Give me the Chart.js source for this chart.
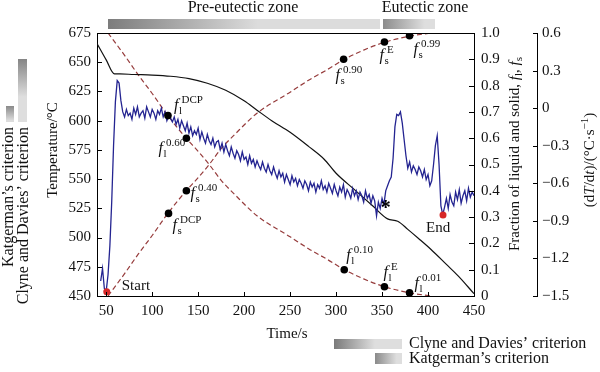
<!DOCTYPE html>
<html>
<head>
<meta charset="utf-8">
<script src="https://cdn.jsdelivr.net/npm/chart.js@4.4.1/dist/chart.umd.min.js"></script>
<style>
  html, body { margin: 0; padding: 0; background: #fff; }
  #wrap { width: 600px; height: 372px; }
</style>
</head>
<body>
<div id="wrap"><canvas id="myChart" width="600" height="372"></canvas></div>
<script>
// axis ticks
var timeTicks = [50, 100, 150, 200, 250, 300, 350, 400, 450];
var tempTicks = [450, 475, 500, 525, 550, 575, 600, 625, 650, 675];
var fracTicks = [0, 0.1, 0.2, 0.3, 0.4, 0.5, 0.6, 0.7, 0.8, 0.9, 1.0];
var rateTicks = [-1.5, -1.2, -0.9, -0.6, -0.3, 0, 0.3, 0.6];

// cooling curve (temperature, left axis)
var tempTime = [40, 50, 59, 65, 80, 100, 120, 140, 160, 180, 200, 214, 230, 250, 270, 287, 300, 320, 340, 356, 367, 378, 390, 403, 420, 433, 450];
var tempValues = [666, 652, 640, 640, 639.5, 639, 638, 636, 632, 626, 617, 609, 600, 590, 578, 567, 555, 541, 527, 516, 514, 507, 499, 490, 477, 467, 452];

// liquid / solid fractions (right axis)
var fracTime = [52, 70, 85, 100, 117, 137, 150, 162, 175, 190, 214, 250, 270, 290, 309, 330, 353, 380, 404];
var flValues = [1.0, 0.915, 0.84, 0.77, 0.686, 0.60, 0.55, 0.50, 0.44, 0.385, 0.305, 0.225, 0.18, 0.14, 0.10, 0.065, 0.035, 0.012, 0];
var fsValues = [0, 0.085, 0.16, 0.23, 0.314, 0.40, 0.45, 0.50, 0.56, 0.615, 0.695, 0.775, 0.82, 0.86, 0.90, 0.935, 0.965, 0.988, 1.0];

// marked points on the fraction curves
var flKeyTime = [117.2, 137.2, 308.9, 352.6, 379.9];
var flKeyValues = [0.686, 0.60, 0.10, 0.035, 0.012];
var flKeySup = ['DCP', '0.60', '0.10', 'E', '0.01'];
var fsKeyTime = [117.8, 137.2, 308.2, 352.6, 379.9];
var fsKeyValues = [0.314, 0.40, 0.90, 0.966, 0.99];
var fsKeySup = ['DCP', '0.40', '0.90', 'E', '0.99'];

// cooling rate dT/dt (far right axis), sampled every 2 s from 44 s
var rateStart = 44;
var rateStep = 2;
var rateValues = [
  -1.38, -1.28, -1.44, -1.46, -1.33, -1.10, -0.75, -0.30, 0.05, 0.22,
  0.20, 0.06, -0.03, -0.07, -0.01, -0.06, -0.04, -0.09, 0.00, -0.05,
  0.01, -0.07, -0.04, -0.02, -0.08, 0.01, -0.03, -0.07, -0.01, -0.04,
  -0.09, -0.02, -0.05, 0.00, -0.07, -0.03, -0.10, -0.06, -0.08, -0.11,
  -0.07, -0.13, -0.09, -0.16, -0.10, -0.14, -0.18, -0.12, -0.20, -0.15,
  -0.22, -0.18, -0.21, -0.16, -0.25, -0.19, -0.24, -0.28, -0.21, -0.26,
  -0.29, -0.24, -0.31, -0.27, -0.26, -0.33, -0.28, -0.35, -0.29, -0.34,
  -0.38, -0.31, -0.36, -0.40, -0.34, -0.37, -0.42, -0.35, -0.41, -0.39,
  -0.45, -0.38, -0.44, -0.41, -0.47, -0.42, -0.46, -0.49, -0.43, -0.48,
  -0.51, -0.45, -0.50, -0.53, -0.47, -0.52, -0.56, -0.50, -0.55, -0.52,
  -0.59, -0.53, -0.57, -0.61, -0.54, -0.59, -0.56, -0.62, -0.57, -0.60,
  -0.64, -0.58, -0.61, -0.66, -0.59, -0.63, -0.60, -0.67, -0.61, -0.64,
  -0.58, -0.65, -0.62, -0.67, -0.60, -0.64, -0.68, -0.61, -0.66, -0.70,
  -0.63, -0.67, -0.61, -0.71, -0.65, -0.68, -0.72, -0.64, -0.70, -0.66,
  -0.73, -0.67, -0.70, -0.75, -0.66, -0.72, -0.69, -0.76, -0.70, -0.74,
  -0.86, -0.75, -0.80, -0.72, -0.77, -0.66, -0.62, -0.58, -0.55, -0.40,
  -0.15, -0.05, -0.06, -0.03, -0.12, -0.25, -0.38, -0.48, -0.43, -0.51,
  -0.46, -0.49, -0.53, -0.47, -0.50, -0.55, -0.49, -0.57, -0.53, -0.62,
  -0.58, -0.45, -0.30, -0.22, -0.45, -0.78, -0.85, -0.79, -0.72, -0.80,
  -0.69, -0.75, -0.78, -0.67, -0.73, -0.65, -0.76, -0.70, -0.66, -0.74,
  -0.64, -0.71, -0.67, -0.70
];

// start / end of the solidification and the eutectic mark
var startEndTime = [50.6, 416.3];
var startEndValues = [-1.466, -0.853];
var starPoint = [354, -0.77];

var SERIF = '"Liberation Serif", "Times New Roman", serif';

function pts(xs, ys) {
  return xs.map(function (x, i) { return { x: x, y: ys[i] }; });
}

var rateData = rateValues.map(function (v, i) {
  return { x: rateStart + i * rateStep, y: v };
});

function fixTicks(list) {
  return function (scale) {
    scale.ticks = list.map(function (v) { return { value: v }; });
  };
}

function fmtFrac(v) { return v === 0 ? '0' : v.toFixed(1); }
function fmtRate(v) {
  if (Math.abs(v) < 1e-9) return '0';
  return v < 0 ? '\u2212' + Math.abs(v).toFixed(1) : v.toFixed(1);
}

function rich(ctx, parts, x, y) {
  var w = 0;
  parts.forEach(function (p) { ctx.font = p[1]; w += ctx.measureText(p[0]).width; });
  var px = x - w / 2;
  parts.forEach(function (p) {
    ctx.font = p[1];
    ctx.fillText(p[0], px, y + p[2]);
    px += ctx.measureText(p[0]).width;
  });
}

function drawF(ctx, x, y, sub, sup) {
  ctx.textAlign = 'left';
  ctx.textBaseline = 'alphabetic';
  ctx.font = 'italic 16px ' + SERIF;
  ctx.fillText('f', x, y);
  ctx.font = '11px ' + SERIF;
  ctx.fillText(sub, x + 5, y + 4);
  ctx.fillText(sup, x + 7.5, y - 7);
}

function bar(ctx, x, y, w, h, vertical, c0, c1, mid) {
  var g = vertical ? ctx.createLinearGradient(0, y, 0, y + h) : ctx.createLinearGradient(x, 0, x + w, 0);
  g.addColorStop(0, c0);
  g.addColorStop(mid, c1);
  g.addColorStop(1, c1);
  ctx.fillStyle = g;
  ctx.fillRect(x, y, w, h);
}

var extras = {
  id: 'extras',
  afterDraw: function (chart) {
    var ctx = chart.ctx;
    var a = chart.chartArea;
    var sx = chart.scales.x, sy = chart.scales.y, s1 = chart.scales.y1, s2 = chart.scales.y2;
    ctx.save();
    ctx.strokeStyle = '#000';
    ctx.lineWidth = 1;

    // top frame
    ctx.beginPath();
    ctx.moveTo(a.left, Math.round(a.top) + 0.5);
    ctx.lineTo(a.right, Math.round(a.top) + 0.5);
    ctx.stroke();

    // inward tick marks
    ctx.beginPath();
    timeTicks.forEach(function (v) {
      var px = Math.round(sx.getPixelForValue(v)) + 0.5;
      ctx.moveTo(px, a.bottom); ctx.lineTo(px, a.bottom - 4);
    });
    tempTicks.forEach(function (v) {
      var py = Math.round(sy.getPixelForValue(v)) + 0.5;
      ctx.moveTo(a.left, py); ctx.lineTo(a.left + 5, py);
    });
    fracTicks.forEach(function (v) {
      var py = Math.round(s1.getPixelForValue(v)) + 0.5;
      ctx.moveTo(a.right, py); ctx.lineTo(a.right - 5, py);
    });
    rateTicks.forEach(function (v) {
      var py = Math.round(s2.getPixelForValue(v)) + 0.5;
      ctx.moveTo(s2.left, py); ctx.lineTo(s2.left - 4, py);
    });
    ctx.stroke();

    ctx.fillStyle = '#111';
    // labels of the marked fraction points
    var flOff = [[6, -6], [-28, 15], [2, -10], [-1, -10], [5, -5]];
    var fsOff = [[4, 17], [4, 7], [-8, 21], [-5, 18], [4, 18]];
    flKeyTime.forEach(function (t, i) {
      drawF(ctx, sx.getPixelForValue(t) + flOff[i][0], s1.getPixelForValue(flKeyValues[i]) + flOff[i][1], 'l', flKeySup[i]);
    });
    fsKeyTime.forEach(function (t, i) {
      drawF(ctx, sx.getPixelForValue(t) + fsOff[i][0], s1.getPixelForValue(fsKeyValues[i]) + fsOff[i][1], 's', fsKeySup[i]);
    });

    // Start / End / eutectic star
    ctx.font = '15px ' + SERIF;
    ctx.textAlign = 'left';
    ctx.textBaseline = 'alphabetic';
    ctx.fillText('Start', sx.getPixelForValue(startEndTime[0]) + 15, s2.getPixelForValue(startEndValues[0]) - 2);
    ctx.fillText('End', sx.getPixelForValue(startEndTime[1]) - 17, s2.getPixelForValue(startEndValues[1]) + 17);
    ctx.font = 'bold 20px ' + SERIF;
    ctx.fillStyle = '#000';
    ctx.textAlign = 'center';
    ctx.textBaseline = 'middle';
    ctx.fillText('*', sx.getPixelForValue(starPoint[0]), s2.getPixelForValue(starPoint[1]) + 4);
    ctx.fillStyle = '#111';

    // axis titles
    var f15 = '15px ' + SERIF, i15 = 'italic 15px ' + SERIF, f11 = '11px ' + SERIF;
    ctx.textAlign = 'left';
    ctx.textBaseline = 'alphabetic';
    rich(ctx, [['Time/s', f15, 0]], 287, 338);

    ctx.save();
    ctx.translate(52, 150);
    ctx.rotate(-Math.PI / 2);
    rich(ctx, [['Temperature/\u00b0C', f15, 0]], 0, 5);
    ctx.restore();

    ctx.save();
    ctx.translate(514, 154);
    ctx.rotate(-Math.PI / 2);
    rich(ctx, [['Fraction of liquid and solid, ', f15, 0], ['f', i15, 0], ['l', f11, 3], [', ', f15, 0], ['f', i15, 0], ['s', f11, 3]], 0, 5);
    ctx.restore();

    ctx.save();
    ctx.translate(589, 160);
    ctx.rotate(-Math.PI / 2);
    rich(ctx, [['(d', f15, 0], ['T', i15, 0], ['/d', f15, 0], ['t', i15, 0], [')/(\u00b0C\u00b7s', f15, 0], ['\u22121', f11, -6], [')', f15, 0]], 0, 5);
    ctx.restore();

    // zone bars on top
    bar(ctx, 108, 19, 272, 10, false, '#7c7c7c', '#dcdcdc', 0.55);
    bar(ctx, 383, 19, 52, 10, false, '#8c8c8c', '#dedede', 0.8);
    ctx.fillStyle = '#111';
    ctx.font = '16px ' + SERIF;
    ctx.textAlign = 'center';
    ctx.textBaseline = 'middle';
    ctx.fillText('Pre-eutectic zone', 243, 8);
    ctx.fillText('Eutectic zone', 425, 8);

    // criterion bars on the left
    bar(ctx, 6, 106, 8, 16, true, '#8a8a8a', '#dcdcdc', 0.9);
    bar(ctx, 18, 59, 9, 63, true, '#858585', '#dedede', 0.6);
    ctx.fillStyle = '#111';
    ctx.textBaseline = 'alphabetic';
    ctx.save();
    ctx.translate(13, 127);
    ctx.rotate(-Math.PI / 2);
    ctx.textAlign = 'right';
    ctx.fillText('Katgerman\u2019s criterion', 0, 0);
    ctx.restore();
    ctx.save();
    ctx.translate(28, 127);
    ctx.rotate(-Math.PI / 2);
    ctx.textAlign = 'right';
    ctx.fillText('Clyne and Davies\u2019 criterion', 0, 0);
    ctx.restore();

    // criterion bars at the bottom
    bar(ctx, 334, 339, 68, 10, false, '#7a7a7a', '#dedede', 0.6);
    bar(ctx, 375, 353, 27, 11, false, '#8a8a8a', '#dedede', 0.8);
    ctx.fillStyle = '#111';
    ctx.textAlign = 'left';
    ctx.textBaseline = 'middle';
    ctx.fillText('Clyne and Davies\u2019 criterion', 409, 344);
    ctx.fillText('Katgerman\u2019s criterion', 409, 359);

    ctx.restore();
  }
};

var tickFont = { family: SERIF, size: 15 };
var axisBase = {
  grid: { drawOnChartArea: false, drawTicks: false },
  border: { color: '#000', width: 1 }
};

var ctx = document.getElementById('myChart').getContext('2d');
var myChart = new Chart(ctx, {
  type: 'line',
  data: {
    datasets: [
      {
        data: pts(flKeyTime, flKeyValues), yAxisID: 'y1', showLine: false,
        pointRadius: 3.8, pointBackgroundColor: '#000', pointBorderWidth: 0
      },
      {
        data: pts(fsKeyTime, fsKeyValues), yAxisID: 'y1', showLine: false,
        pointRadius: 3.8, pointBackgroundColor: '#000', pointBorderWidth: 0
      },
      {
        data: pts(startEndTime, startEndValues), yAxisID: 'y2', showLine: false,
        pointRadius: 3.5, pointBackgroundColor: 'rgb(215,40,40)', pointBorderWidth: 0
      },
      {
        data: rateData, yAxisID: 'y2',
        borderColor: 'rgb(36,36,145)', borderWidth: 1.3, pointRadius: 0, tension: 0
      },
      {
        data: pts(tempTime, tempValues), yAxisID: 'y',
        borderColor: '#111', borderWidth: 1.2, pointRadius: 0, cubicInterpolationMode: 'monotone'
      },
      {
        data: pts(fracTime, flValues), yAxisID: 'y1',
        borderColor: 'rgb(150,60,60)', borderWidth: 1.2, borderDash: [5, 3], pointRadius: 0, cubicInterpolationMode: 'monotone'
      },
      {
        data: pts(fracTime, fsValues), yAxisID: 'y1',
        borderColor: 'rgb(150,60,60)', borderWidth: 1.2, borderDash: [5, 3], pointRadius: 0, cubicInterpolationMode: 'monotone'
      }
    ]
  },
  options: {
    responsive: false,
    animation: false,
    layout: { padding: { top: 33, left: 0, right: 0, bottom: 0 } },
    plugins: { legend: { display: false }, tooltip: { enabled: false } },
    scales: {
      x: Object.assign({
        type: 'linear', min: 40, max: 450,
        afterBuildTicks: fixTicks(timeTicks),
        afterFit: function (s) { s.height = 76; },
        ticks: { font: tickFont, color: '#111', padding: 6, autoSkip: false, maxRotation: 0,
          callback: function (v) { return String(v); } }
      }, axisBase),
      y: Object.assign({
        position: 'left', min: 450, max: 675,
        afterBuildTicks: fixTicks(tempTicks),
        afterFit: function (s) { s.width = 97; },
        ticks: { font: tickFont, color: '#111', padding: 6, autoSkip: false,
          callback: function (v) { return String(v); } }
      }, axisBase),
      y1: Object.assign({
        position: 'right', min: 0, max: 1, weight: 1,
        afterBuildTicks: fixTicks(fracTicks),
        afterFit: function (s) { s.width = 63; },
        ticks: { font: tickFont, color: '#111', padding: 7, autoSkip: false, callback: fmtFrac }
      }, axisBase),
      y2: Object.assign({
        position: 'right', min: -1.5, max: 0.6, weight: 2,
        afterBuildTicks: fixTicks(rateTicks),
        afterFit: function (s) { s.width = 63; },
        ticks: { font: tickFont, color: '#111', padding: 5, autoSkip: false, callback: fmtRate }
      }, axisBase)
    }
  },
  plugins: [extras]
});
</script>
</body>
</html>
